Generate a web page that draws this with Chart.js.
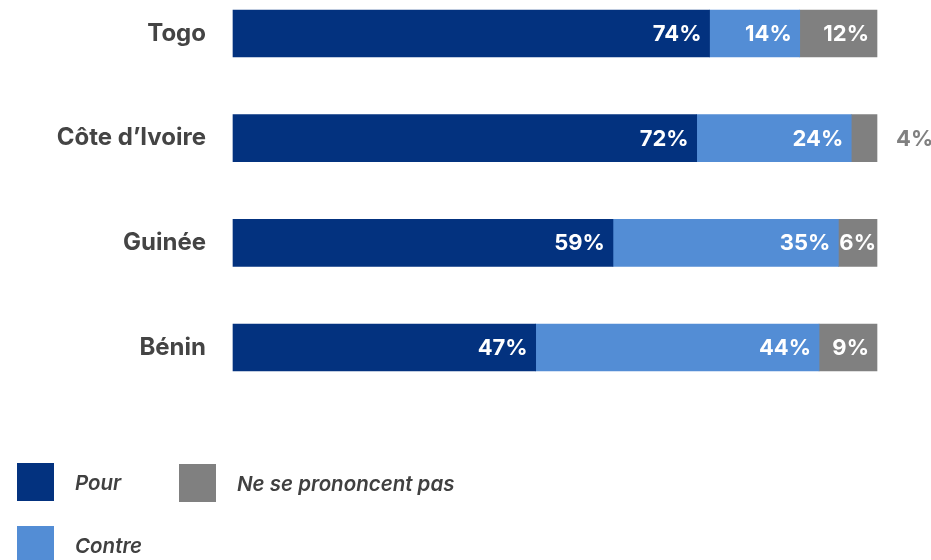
<!DOCTYPE html>
<html lang="fr">
<head>
<meta charset="utf-8">
<title>Pour / Contre</title>
<script src="https://cdn.jsdelivr.net/npm/chart.js@4"></script>
<style>
  body { margin: 0; background: #fff; }
  #wrap { position: relative; width: 931px; height: 560px; overflow: hidden; }
  .key { position: absolute; display: flex; align-items: center; font-family: Inter, sans-serif;
         font-style: italic; font-weight: 600; font-size: 20.5px; color: #404040; }
  .key span.box { display: inline-block; width: 37px; height: 38px; margin-right: 21px; }
</style>
</head>
<body>
<div id="wrap">
  <canvas id="vote-chart" width="931" height="560"></canvas>
  <div class="key" style="left:17px; top:463px;"><span class="box" style="background:#03327f"></span>Pour</div>
  <div class="key" style="left:179px; top:464px;"><span class="box" style="background:#808080"></span>Ne se prononcent pas</div>
  <div class="key" style="left:17px; top:526px;"><span class="box" style="background:#538dd5"></span>Contre</div>
</div>
<script>
// countries and answer shares (%)
let countries = ['Togo', 'Côte d\u2019Ivoire', 'Guinée', 'Bénin']
let pour = [74, 72, 59, 47]
let contre = [14, 24, 35, 44]
let nspp = [12, 4, 6, 9]

let barColors = ['#03327f', '#538dd5', '#808080']

// write the % value at the end of each segment, outside when it does not fit
let valueLabels = {
    id: 'valueLabels',
    afterDatasetsDraw(chart) {
        let ctx = chart.ctx
        ctx.save()
        ctx.font = 'bold 22px Inter, sans-serif'
        ctx.textBaseline = 'middle'
        chart.data.datasets.forEach((ds, i) => {
            let meta = chart.getDatasetMeta(i)
            meta.data.forEach((bar, j) => {
                let text = ds.data[j] + '%'
                let w = ctx.measureText(text).width
                let segWidth = bar.x - bar.base
                ctx.fillStyle = '#ffffff'
                if (segWidth > w + 16) {
                    ctx.textAlign = 'right'
                    ctx.fillText(text, bar.x - 8, bar.y + 1)
                } else if (segWidth > w) {
                    ctx.textAlign = 'center'
                    ctx.fillText(text, (bar.x + bar.base) / 2, bar.y + 1)
                } else {
                    ctx.fillStyle = '#808080'
                    ctx.textAlign = 'left'
                    ctx.fillText(text, bar.x + 19, bar.y + 1)
                }
            })
        })
        ctx.restore()
    }
}

let context = document.querySelector('#vote-chart').getContext('2d')

let voteChart = new Chart(context, {
    type: 'bar',
    data: {
        labels: countries,
        datasets: [
            { label: 'Pour', data: pour, backgroundColor: barColors[0] },
            { label: 'Contre', data: contre, backgroundColor: barColors[1] },
            { label: 'Ne se prononcent pas', data: nspp, backgroundColor: barColors[2] }
        ]
    },
    options: {
        indexAxis: 'y',
        responsive: false,
        animation: false,
        layout: { padding: { top: 33.5, right: 54, bottom: 212.5, left: 0 } },
        datasets: { bar: { barThickness: 47, clip: false, borderWidth: 0 } },
        scales: {
            x: { stacked: true, min: 0, max: 100, display: false },
            y: {
                stacked: true,
                offset: false,
                border: { display: false },
                // gap between names and bars comes from the (hidden) tick length
                grid: { display: false, drawTicks: true, tickLength: 27 },
                ticks: {
                    padding: 0,
                    color: '#444444',
                    font: { family: 'Inter, sans-serif', size: 24, weight: 'bold' }
                },
                afterFit(scale) { scale.width = 233 }
            }
        },
        plugins: {
            legend: { display: false },
            tooltip: { enabled: false }
        }
    },
    plugins: [valueLabels]
})
</script>
</body>
</html>
